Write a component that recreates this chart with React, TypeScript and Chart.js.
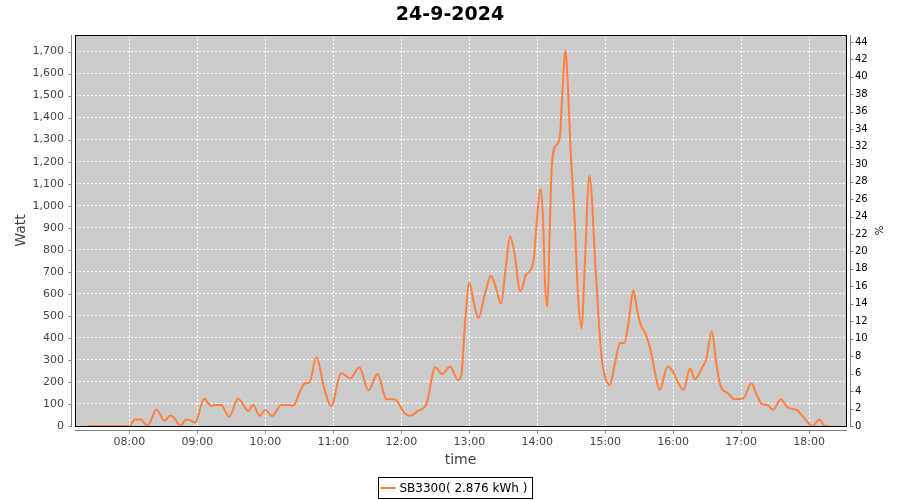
import React, { useEffect, useRef } from "react";
import { Chart, registerables } from "chart.js";

Chart.register(...registerables);

const TITLE = "24-9-2024";
const SERIES_LABEL = "SB3300( 2.876 kWh )";
const Y_LEFT_TITLE = "Watt";
const Y_RIGHT_TITLE = "%";
const X_TITLE = "time";
const HOUR_TICKS = ["08:00", "09:00", "10:00", "11:00", "12:00", "13:00", "14:00", "15:00", "16:00", "17:00", "18:00"];

const TIMES = [
  "07:23", "08:00", "08:05", "08:10", "08:16", "08:24", "08:31", "08:36", "08:39", "08:45",
  "08:50", "08:53", "08:58", "09:06", "09:12", "09:16", "09:21", "09:28", "09:36", "09:45",
  "09:49", "09:55", "10:00", "10:06", "10:14", "10:20", "10:25", "10:30", "10:35", "10:39",
  "10:45", "10:52", "10:58", "11:07", "11:15", "11:23", "11:31", "11:39", "11:47", "11:54",
  "12:03", "12:08", "12:15", "12:22", "12:30", "12:36", "12:43", "12:50", "12:53", "12:56",
  "13:00", "13:04", "13:08", "13:14", "13:19", "13:24", "13:28", "13:32", "13:36", "13:40",
  "13:45", "13:50", "13:54", "13:57", "13:59", "14:03", "14:05", "14:07", "14:09", "14:11",
  "14:13", "14:17", "14:20", "14:22", "14:25", "14:27", "14:29", "14:33", "14:36", "14:39",
  "14:42", "14:46", "14:48", "14:51", "14:54", "14:57", "15:00", "15:04", "15:08", "15:13",
  "15:17", "15:20", "15:25", "15:28", "15:31", "15:36", "15:40", "15:44", "15:48", "15:55",
  "16:00", "16:04", "16:09", "16:15", "16:19", "16:26", "16:29", "16:34", "16:38", "16:42",
  "16:48", "16:54", "17:02", "17:09", "17:13", "17:18", "17:23", "17:28", "17:35", "17:40",
  "17:43", "17:49", "17:55", "18:03", "18:09", "18:14", "18:18"
];

const WATTS = [
  0, 0, 30, 30, 0, 75, 24, 48, 40, 0,
  30, 28, 15, 124, 91, 95, 95, 42, 124, 68,
  97, 47, 73, 45, 95, 95, 93, 151, 194, 198,
  312, 170, 91, 239, 217, 267, 161, 236, 121, 121,
  58, 47, 70, 97, 267, 236, 270, 209, 230, 450,
  650, 560, 490, 603, 682, 620, 555, 709, 861, 780,
  611, 686, 706, 760, 891, 1076, 950, 633, 542, 891,
  1194, 1277, 1315, 1500, 1706, 1550, 1300, 936, 588, 444,
  739, 1136, 1050, 755, 500, 300, 220, 186, 270, 376,
  378, 450, 615, 530, 464, 414, 345, 240, 164, 270,
  245, 200, 164, 262, 212, 270, 300, 429, 285, 179,
  150, 121, 126, 194, 150, 100, 95, 73, 121, 90,
  80, 73, 40, 0, 30, 0, 0
];

const toMin = (s: string) => {
  const [h, m] = s.split(":").map(Number);
  return h * 60 + m;
};
const fmtMin = (v: number) => {
  const h = Math.floor(v / 60);
  const m = Math.round(v - h * 60);
  return String(h).padStart(2, "0") + ":" + String(m).padStart(2, "0");
};

const FONT = "DejaVu Sans";
const LINE_COLOR = "#ff7f3f";
const AXIS_GRAY = "#808080";

const decorPlugin = {
  id: "decor",
  beforeDraw(chart: any) {
    const { ctx, chartArea: a } = chart;
    ctx.save();
    ctx.fillStyle = "#ffffff";
    ctx.fillRect(0, 0, chart.width, chart.height);
    ctx.fillStyle = "#cccccc";
    ctx.fillRect(a.left, a.top, a.right - a.left, a.bottom - a.top);
    ctx.restore();
  },
  afterDraw(chart: any) {
    const { ctx, chartArea: a, scales } = chart;
    ctx.save();
    // plot border
    ctx.strokeStyle = "#000000";
    ctx.lineWidth = 1;
    ctx.setLineDash([]);
    ctx.strokeRect(a.left + 0.5, a.top + 0.5, a.right - a.left, a.bottom - a.top);

    // axis lines (offset from plot)
    ctx.strokeStyle = AXIS_GRAY;
    ctx.beginPath();
    const lx = a.left - 3.5;
    ctx.moveTo(lx, a.top);
    ctx.lineTo(lx, a.bottom + 1);
    scales.y.ticks.forEach((t: any) => {
      const py = Math.round(scales.y.getPixelForValue(t.value)) + 0.5;
      ctx.moveTo(lx - 3, py);
      ctx.lineTo(lx, py);
    });
    const by = a.bottom + 4.5;
    ctx.moveTo(a.left, by);
    ctx.lineTo(a.right + 1, by);
    scales.x.ticks.forEach((t: any) => {
      const px = Math.round(scales.x.getPixelForValue(t.value)) + 0.5;
      ctx.moveTo(px, by);
      ctx.lineTo(px, by + 3);
    });
    const rx = a.right + 4.5;
    ctx.moveTo(rx, a.top);
    ctx.lineTo(rx, a.bottom + 1);
    scales.y1.ticks.forEach((t: any) => {
      const py = Math.round(scales.y1.getPixelForValue(t.value)) + 0.5;
      ctx.moveTo(rx, py);
      ctx.lineTo(rx + 3, py);
    });
    ctx.stroke();

    // title
    ctx.fillStyle = "#000000";
    ctx.textAlign = "center";
    ctx.textBaseline = "middle";
    ctx.font = `bold 19px "${FONT}"`;
    ctx.fillText(TITLE, 450, 15);

    // x title
    ctx.fillStyle = "#444444";
    ctx.font = `14px "${FONT}"`;
    ctx.fillText(X_TITLE, (a.left + a.right) / 2, 460);

    // left y title
    ctx.save();
    ctx.translate(21, (a.top + a.bottom) / 2);
    ctx.rotate(-Math.PI / 2);
    ctx.fillText(Y_LEFT_TITLE, 0, 0);
    ctx.restore();

    // right y title
    ctx.save();
    ctx.fillStyle = "#000000";
    ctx.font = `10px "${FONT}"`;
    ctx.translate(880, (a.top + a.bottom) / 2);
    ctx.rotate(-Math.PI / 2);
    ctx.fillText(Y_RIGHT_TITLE, 0, 0);
    ctx.restore();

    // legend
    const label = chart.data.datasets[0].label;
    ctx.font = `12px "${FONT}"`;
    const tw = ctx.measureText(label).width;
    const boxW = 2 + 16 + 4 + tw + 4;
    const boxL = Math.round(455 - boxW / 2) + 0.5;
    const boxT = 477.5;
    const boxH = 21;
    ctx.strokeStyle = "#000000";
    ctx.lineWidth = 1;
    ctx.strokeRect(boxL, boxT, boxW, boxH);
    ctx.strokeStyle = LINE_COLOR;
    ctx.lineWidth = 2;
    ctx.beginPath();
    ctx.moveTo(boxL + 2, boxT + boxH / 2);
    ctx.lineTo(boxL + 17, boxT + boxH / 2);
    ctx.stroke();
    ctx.fillStyle = "#000000";
    ctx.textAlign = "left";
    ctx.fillText(label, boxL + 21, boxT + boxH / 2 + 0.5);
    ctx.restore();
  },
};

export default function App() {
  const ref = useRef<HTMLCanvasElement | null>(null);
  useEffect(() => {
    if (!ref.current) return;
    const points = TIMES.map((t, i) => ({ x: toMin(t), y: WATTS[i] }));
    const chart = new Chart(ref.current, {
      type: "line",
      data: {
        datasets: [
          {
            label: SERIES_LABEL,
            data: points,
            borderColor: LINE_COLOR,
            backgroundColor: LINE_COLOR,
            borderWidth: 2,
            pointRadius: 0,
            cubicInterpolationMode: "monotone",
            fill: false,
            yAxisID: "y",
          },
        ],
      },
      options: {
        responsive: false,
        animation: false,
        events: [],
        devicePixelRatio: 1,
        layout: { padding: { top: 35, left: 0, right: 0, bottom: 0 } },
        plugins: {
          legend: { display: false },
          title: { display: false },
          tooltip: { enabled: false },
        },
        scales: {
          x: {
            type: "linear",
            position: "bottom",
            min: 432,
            max: 1112.5,
            afterBuildTicks: (s: any) => {
              s.ticks = HOUR_TICKS.map((t) => ({ value: toMin(t) }));
            },
            afterFit: (s: any) => {
              s.height = 74;
            },
            ticks: {
              callback: (v: any) => fmtMin(Number(v)),
              font: { family: FONT, size: 11 },
              color: "#444444",
              padding: 10,
              maxRotation: 0,
              autoSkip: false,
            },
            grid: { color: "#ffffff", drawTicks: false, lineWidth: 1 },
            border: { display: false, dash: [2, 2] },
          },
          y: {
            type: "linear",
            position: "left",
            min: 0,
            max: 1775,
            afterFit: (s: any) => {
              s.width = 75;
            },
            ticks: {
              stepSize: 100,
              includeBounds: false,
              callback: (v: any) => Number(v).toLocaleString("en-US"),
              font: { family: FONT, size: 11 },
              color: "#444444",
              padding: 11,
            },
            grid: { color: "#ffffff", drawTicks: false, lineWidth: 1 },
            border: { display: false, dash: [2, 2] },
          },
          y1: {
            type: "linear",
            position: "right",
            min: 0,
            max: 44.8,
            afterFit: (s: any) => {
              s.width = 54;
            },
            ticks: {
              stepSize: 2,
              includeBounds: false,
              font: { family: FONT, size: 10 },
              color: "#000000",
              padding: 9,
            },
            grid: { display: false, drawTicks: false },
            border: { display: false },
          },
        },
      },
      plugins: [decorPlugin],
    } as any);
    return () => chart.destroy();
  }, []);
  return (
    <div style={{ position: "absolute", left: 0, top: 0, width: 900, height: 500 }}>
      <canvas ref={ref} width={900} height={500} />
    </div>
  );
}
